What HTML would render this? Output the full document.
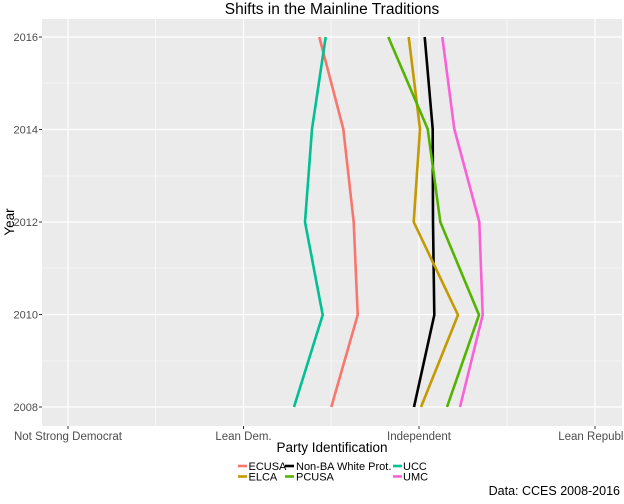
<!DOCTYPE html>
<html><head><meta charset="utf-8"><style>
body{margin:0;background:#fff;}
svg text{font-family:"Liberation Sans",sans-serif;}
</style></head><body>
<svg width="624" height="499" xmlns="http://www.w3.org/2000/svg">
<rect width="624" height="499" fill="#fff"/>
<rect x="42" y="19" width="580" height="407" fill="#ebebeb"/>
<g stroke="#fff" stroke-width="0.6">
<line x1="42" x2="622" y1="83" y2="83"/><line x1="42" x2="622" y1="176" y2="176"/>
<line x1="42" x2="622" y1="268" y2="268"/><line x1="42" x2="622" y1="361" y2="361"/>
<line y1="19" y2="426" x1="155.5" x2="155.5"/><line y1="19" y2="426" x1="331" x2="331"/>
<line y1="19" y2="426" x1="507" x2="507"/>
</g>
<g stroke="#fff" stroke-width="1.2">
<line x1="42" x2="622" y1="37" y2="37"/><line x1="42" x2="622" y1="129.5" y2="129.5"/>
<line x1="42" x2="622" y1="222" y2="222"/><line x1="42" x2="622" y1="314.5" y2="314.5"/>
<line x1="42" x2="622" y1="407" y2="407"/>
<line y1="19" y2="426" x1="68" x2="68"/><line y1="19" y2="426" x1="243.5" x2="243.5"/>
<line y1="19" y2="426" x1="419" x2="419"/><line y1="19" y2="426" x1="595" x2="595"/>
</g>
<g fill="none" stroke-width="2.6" stroke-linejoin="round">
<polyline stroke="#f8766d" points="331.3,407 357.7,315 353.7,222 343.3,129 319.3,37"/>
<polyline stroke="#00c094" points="294,407 322.7,315 305,222 312,129 325.7,37"/>
<polyline stroke="#000" points="414,407 434.3,315 433,222 432.7,129 424.7,37"/>
<polyline stroke="#c49a00" points="421,407 458,315 413.7,222 420,129 408.7,37"/>
<polyline stroke="#53b400" points="447,407 479,315 440.3,222 427.7,129 388.3,37"/>
<polyline stroke="#fb61d7" points="460,407 482.7,315 479.3,222 454.3,129 442.3,37"/>
</g>
<g stroke="#333" stroke-width="1">
<line x1="39" x2="42" y1="37" y2="37"/><line x1="39" x2="42" y1="129.5" y2="129.5"/>
<line x1="39" x2="42" y1="222" y2="222"/><line x1="39" x2="42" y1="314.5" y2="314.5"/>
<line x1="39" x2="42" y1="407" y2="407"/>
<line x1="68" x2="68" y1="426" y2="429"/><line x1="243.5" x2="243.5" y1="426" y2="429"/>
<line x1="419" x2="419" y1="426" y2="429"/><line x1="595" x2="595" y1="426" y2="429"/>
</g>
<g fill="#4d4d4d" font-size="11" text-anchor="end">
<text x="38" y="41">2016</text><text x="38" y="133.5">2014</text>
<text x="38" y="226">2012</text><text x="38" y="318.5">2010</text><text x="38" y="411">2008</text>
</g>
<g fill="#4d4d4d" font-size="11.5" text-anchor="middle">
<text x="68" y="440">Not Strong Democrat</text><text x="243.5" y="440">Lean Dem.</text>
<text x="419" y="440">Independent</text><text x="595" y="440">Lean Republic</text>
</g>
<text x="332" y="14" font-size="15.5" text-anchor="middle" fill="#000">Shifts in the Mainline Traditions</text>
<text x="332" y="452" font-size="13.5" text-anchor="middle" fill="#000">Party Identification</text>
<text x="14" y="222" font-size="13.5" text-anchor="middle" fill="#000" transform="rotate(-90 14 222)">Year</text>
<g stroke-width="2.6">
<line x1="238" x2="247" y1="466" y2="466" stroke="#f8766d"/>
<line x1="238" x2="247" y1="476.5" y2="476.5" stroke="#c49a00"/>
<line x1="285" x2="294" y1="466" y2="466" stroke="#000"/>
<line x1="285" x2="294" y1="476.5" y2="476.5" stroke="#53b400"/>
<line x1="393" x2="402" y1="466" y2="466" stroke="#00c094"/>
<line x1="393" x2="402" y1="476.5" y2="476.5" stroke="#fb61d7"/>
</g>
<g font-size="11" fill="#000">
<text x="248.5" y="470">ECUSA</text><text x="248.5" y="480.5">ELCA</text>
<text x="296" y="470">Non-BA White Prot.</text><text x="296" y="480.5">PCUSA</text>
<text x="403" y="470">UCC</text><text x="403" y="480.5">UMC</text>
</g>
<text x="620" y="495" font-size="12.5" text-anchor="end" fill="#000">Data: CCES 2008-2016</text>
</svg>
</body></html>
